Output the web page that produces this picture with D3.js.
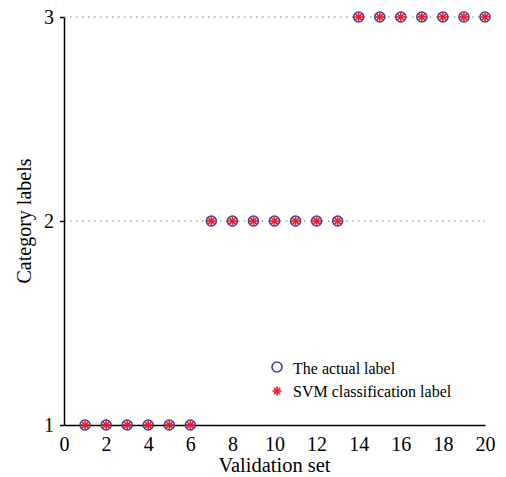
<!DOCTYPE html>
<html>
<head>
<meta charset="utf-8">
<script src="https://cdn.jsdelivr.net/npm/d3@7"></script>
<style>
  body { margin: 0; background: #fff; }
  svg text { font-family: "Liberation Serif", "Times New Roman", serif; }
</style>
</head>
<body>
<div id="container"></div>
<script>
// validation samples and their labels
var samples = d3.range(1, 21);
var actualLabels = [1, 1, 1, 1, 1, 1, 2, 2, 2, 2, 2, 2, 2, 3, 3, 3, 3, 3, 3, 3];
var svmLabels    = [1, 1, 1, 1, 1, 1, 2, 2, 2, 2, 2, 2, 2, 3, 3, 3, 3, 3, 3, 3];
var xTicks = [0, 2, 4, 6, 8, 10, 12, 14, 16, 18, 20];
var yTicks = [1, 2, 3];
var legendNames = ["The actual label", "SVM classification label"];

var width = 506, height = 477;
var margin = {left: 64, right: 21, top: 17, bottom: 52};
var serif = '"Liberation Serif", "Times New Roman", serif';

var svg = d3.select('#container').append('svg')
  .attr('width', width)
  .attr('height', height);

var x = d3.scaleLinear().domain([0, 20]).range([margin.left, width - margin.right]);
var y = d3.scaleLinear().domain([1, 3]).range([height - margin.bottom, margin.top]);

// dotted gridlines at each class level
svg.selectAll('.grid')
  .data(yTicks.filter(d => d > 1))
  .enter().append('line')
  .attr('x1', x(0)).attr('x2', x(20))
  .attr('y1', d => y(d)).attr('y2', d => y(d))
  .attr('stroke', '#777')
  .attr('stroke-width', 1.2)
  .attr('stroke-dasharray', '1.5,4.5');

// x axis
var xAxis = svg.append('g')
  .attr('transform', 'translate(0,' + y(1) + ')')
  .attr('font-family', serif)
  .call(d3.axisBottom(x).tickValues(xTicks).tickFormat(d3.format('d')).tickSize(0).tickPadding(12));
xAxis.attr('font-family', serif);
xAxis.select('.domain').attr('stroke', '#000').attr('stroke-width', 1.5);
xAxis.selectAll('text').attr('font-size', 20).attr('fill', '#000');

// y axis
var yAxis = svg.append('g')
  .attr('transform', 'translate(' + x(0) + ',0)')
  .call(d3.axisLeft(y).tickValues(yTicks).tickFormat(d3.format('d')).tickSize(4).tickSizeOuter(0).tickPadding(6));
yAxis.attr('font-family', serif);
yAxis.select('.domain').attr('stroke', '#000').attr('stroke-width', 1.5);
yAxis.selectAll('line').attr('stroke', '#000').attr('stroke-width', 1.5);
yAxis.selectAll('text').attr('font-size', 20).attr('fill', '#000');

// axis titles
svg.append('text')
  .attr('x', (x(0) + x(20)) / 2)
  .attr('y', 472)
  .attr('text-anchor', 'middle')
  .attr('font-size', 20.5)
  .text('Validation set');

svg.append('text')
  .attr('transform', 'translate(31,' + y(2) + ') rotate(-90)')
  .attr('text-anchor', 'middle')
  .attr('font-size', 20)
  .text('Category labels');

// star marker (asterisk) drawn as short strokes
function star(g, cx, cy, r) {
  [0, 45, 90, 135].forEach(function(a) {
    var rad = a * Math.PI / 180;
    g.append('line')
      .attr('x1', cx - r * Math.cos(rad)).attr('y1', cy - r * Math.sin(rad))
      .attr('x2', cx + r * Math.cos(rad)).attr('y2', cy + r * Math.sin(rad))
      .attr('stroke', '#ee1c25')
      .attr('stroke-width', 1.6);
  });
}

// actual labels: blue circles
svg.selectAll('.actual')
  .data(samples)
  .enter().append('circle')
  .attr('cx', (d, i) => x(d))
  .attr('cy', (d, i) => y(actualLabels[i]))
  .attr('r', 5)
  .attr('fill', 'none')
  .attr('stroke', '#3b3fa3')
  .attr('stroke-width', 1.6);

// svm labels: red asterisks
var stars = svg.append('g');
samples.forEach(function(d, i) {
  star(stars, x(d), y(svmLabels[i]), 4.5);
});

// legend
var lg = svg.append('g');
lg.append('circle')
  .attr('cx', 277).attr('cy', 367).attr('r', 5)
  .attr('fill', 'none').attr('stroke', '#3b3fa3').attr('stroke-width', 1.6);
star(lg, 277, 391, 4.5);
legendNames.forEach(function(name, i) {
  lg.append('text')
    .attr('x', 293)
    .attr('y', 374 + i * 23)
    .attr('font-size', 16)
    .text(name);
});
</script>
</body>
</html>
